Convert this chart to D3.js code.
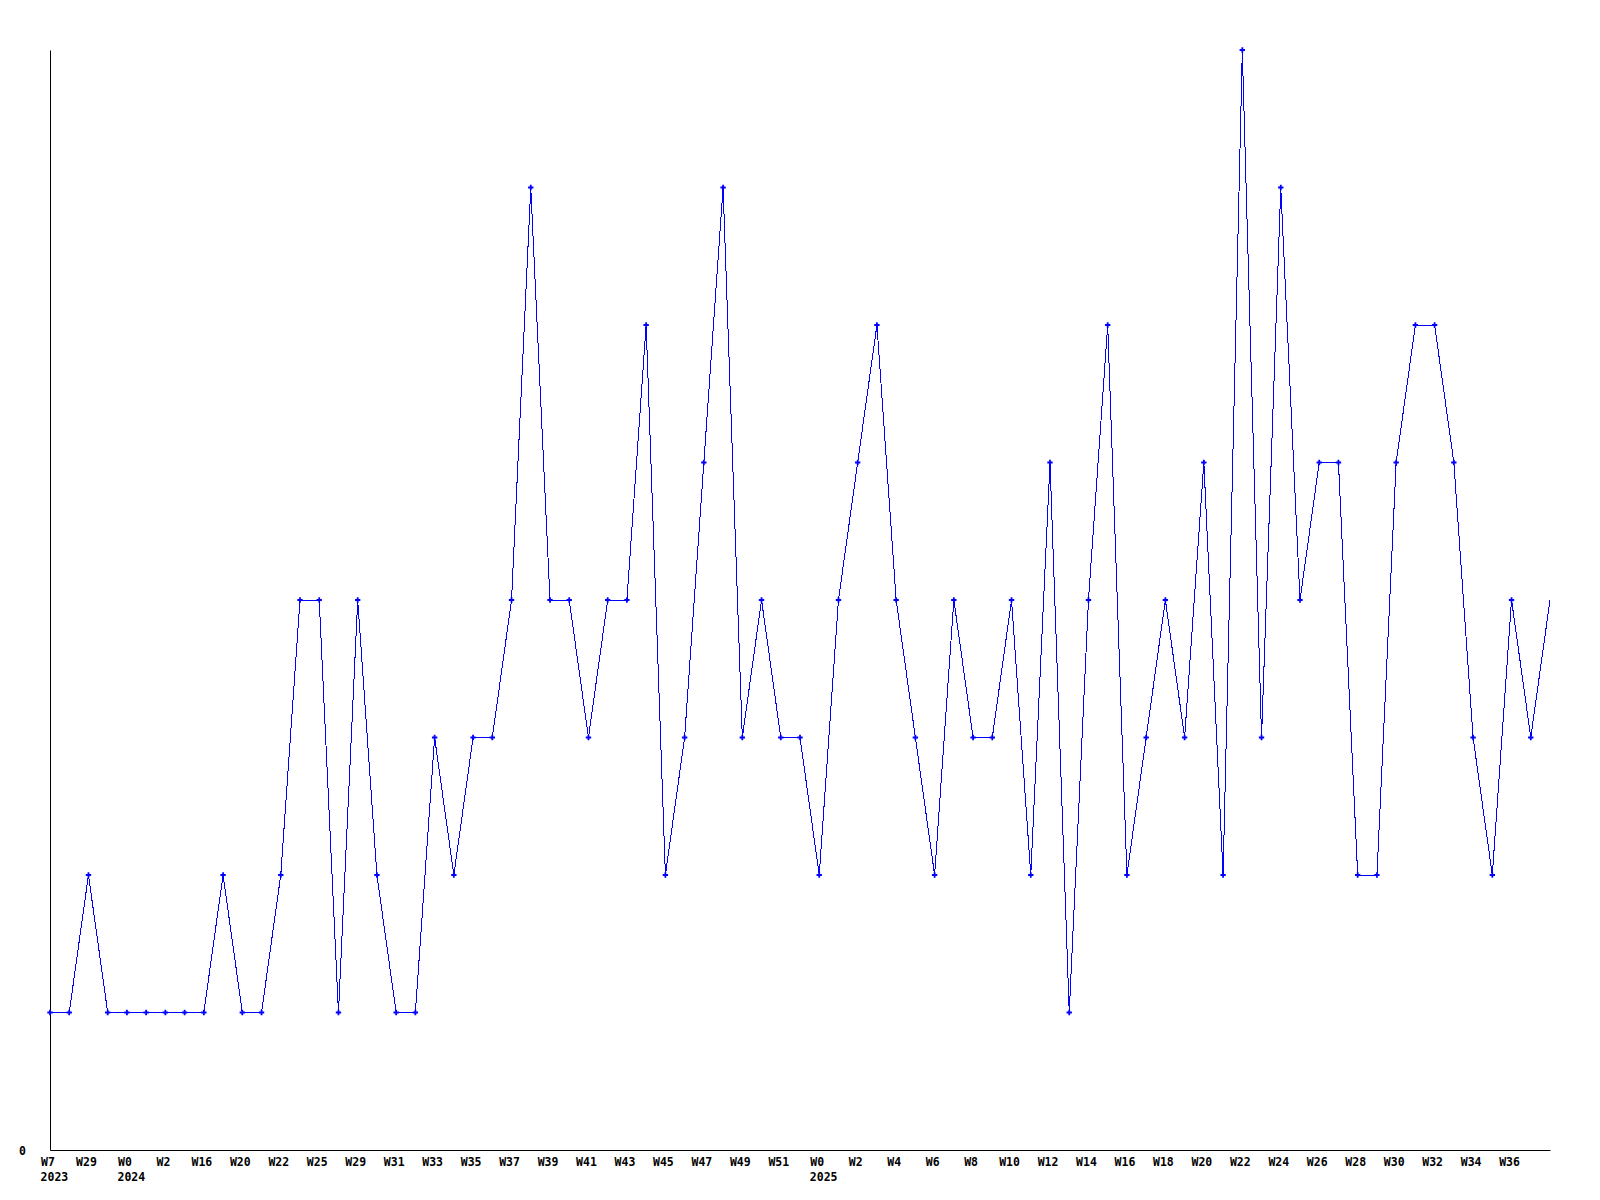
<!DOCTYPE html>
<html>
<head>
	<title>Weekly count</title>
	<script src="https://d3js.org/d3.v7.min.js" charset="utf-8"></script>
	<style>
		body { margin: 0; background: #fff; }
		.axis text { font-family: "DejaVu Sans Mono", monospace; font-weight: bold; font-size: 11.5px; fill: #000; }
		.axis path { stroke: #000; }
	</style>
</head>
<body>
	<script>
		// one value per week
		var counts = [1, 1, 2, 1, 1, 1, 1, 1, 1, 2, 1, 1, 2, 4, 4, 1, 4, 2, 1, 1,
			3, 2, 3, 3, 4, 7, 4, 4, 3, 4, 4, 6, 2, 3, 5, 7, 3, 4, 3, 3,
			2, 4, 5, 6, 4, 3, 2, 4, 3, 3, 4, 2, 5, 1, 4, 6, 2, 3, 4, 3,
			5, 2, 8, 3, 7, 4, 5, 5, 2, 2, 5, 6, 6, 5, 3, 2, 4, 3, 4];

		// labels are shown on every second week
		var weekLabels = ["W7", "W29", "W0", "W2", "W16", "W20", "W22", "W25", "W29", "W31",
			"W33", "W35", "W37", "W39", "W41", "W43", "W45", "W47", "W49", "W51",
			"W0", "W2", "W4", "W6", "W8", "W10", "W12", "W14", "W16", "W18",
			"W20", "W22", "W24", "W26", "W28", "W30", "W32", "W34", "W36"];

		var yearLabels = [
			{ at: 0, year: "2023" },
			{ at: 2, year: "2024" },
			{ at: 20, year: "2025" }
		];

		var yTicks = [0];

		var svgWidth = 1600,
			svgHeight = 1200,
			margin = {top: 50, right: 50, bottom: 50, left: 50},
			width = svgWidth - margin.left - margin.right,
			height = svgHeight - margin.top - margin.bottom,
			charW = 6.92; // advance of the mono font

		var svg = d3.select("body").append("svg")
			.attr("width", svgWidth)
			.attr("height", svgHeight);

		var g = svg.append("g")
			.attr("transform", "translate(" + margin.left + "," + margin.top + ")");

		var x = d3.scaleLinear()
				.domain([0, counts.length - 1])
				.range([0, width]),
			y = d3.scaleLinear()
				.domain([0, 8])
				.range([height, 0]);

		var tickIdx = weekLabels.map(function(d, i) { return i * 2; });

		function labelLeft(idx) {
			return -weekLabels[idx].length * charW / 2 - 2.5;
		}

		// x axis
		var xAxis = g.append("g")
			.attr("class", "axis")
			.attr("transform", "translate(0," + height + ")")
			.call(d3.axisBottom(x)
				.tickValues(tickIdx)
				.tickSize(0)
				.tickSizeOuter(0)
				.tickPadding(8)
				.tickFormat(function(d) { return weekLabels[d / 2]; }));

		xAxis.selectAll(".tick text")
			.attr("text-anchor", "start")
			.attr("x", function(d) { return labelLeft(d / 2); });

		// year under the first week of each year
		xAxis.selectAll(".year")
			.data(yearLabels)
			.enter().append("text")
			.attr("class", "year")
			.attr("text-anchor", "start")
			.attr("x", function(d) { return x(d.at * 2) + labelLeft(d.at); })
			.attr("y", 31)
			.text(function(d) { return d.year; });

		// y axis, only the zero is labelled
		var yAxis = g.append("g")
			.attr("class", "axis")
			.call(d3.axisLeft(y)
				.tickValues(yTicks)
				.tickSize(0)
				.tickSizeOuter(0)
				.tickPadding(24));

		yAxis.selectAll(".tick text").attr("dy", "0.35em");

		// the series
		var line = d3.line()
			.x(function(d, i) { return x(i); })
			.y(function(d) { return y(d); });

		g.append("path")
			.datum(counts)
			.attr("fill", "none")
			.attr("stroke", "#0000ff")
			.attr("stroke-width", 1)
			.attr("shape-rendering", "crispEdges")
			.attr("d", line);

		// markers (the last, still open week has none)
		g.append("g")
			.selectAll(".pt")
			.data(counts.slice(0, -1))
			.enter().append("path")
			.attr("class", "pt")
			.attr("transform", function(d, i) { return "translate(" + x(i) + "," + y(d) + ")"; })
			.attr("d", d3.symbol().type(d3.symbolCross).size(16))
			.attr("fill", "#0000ff");
	</script>
</body>
</html>
